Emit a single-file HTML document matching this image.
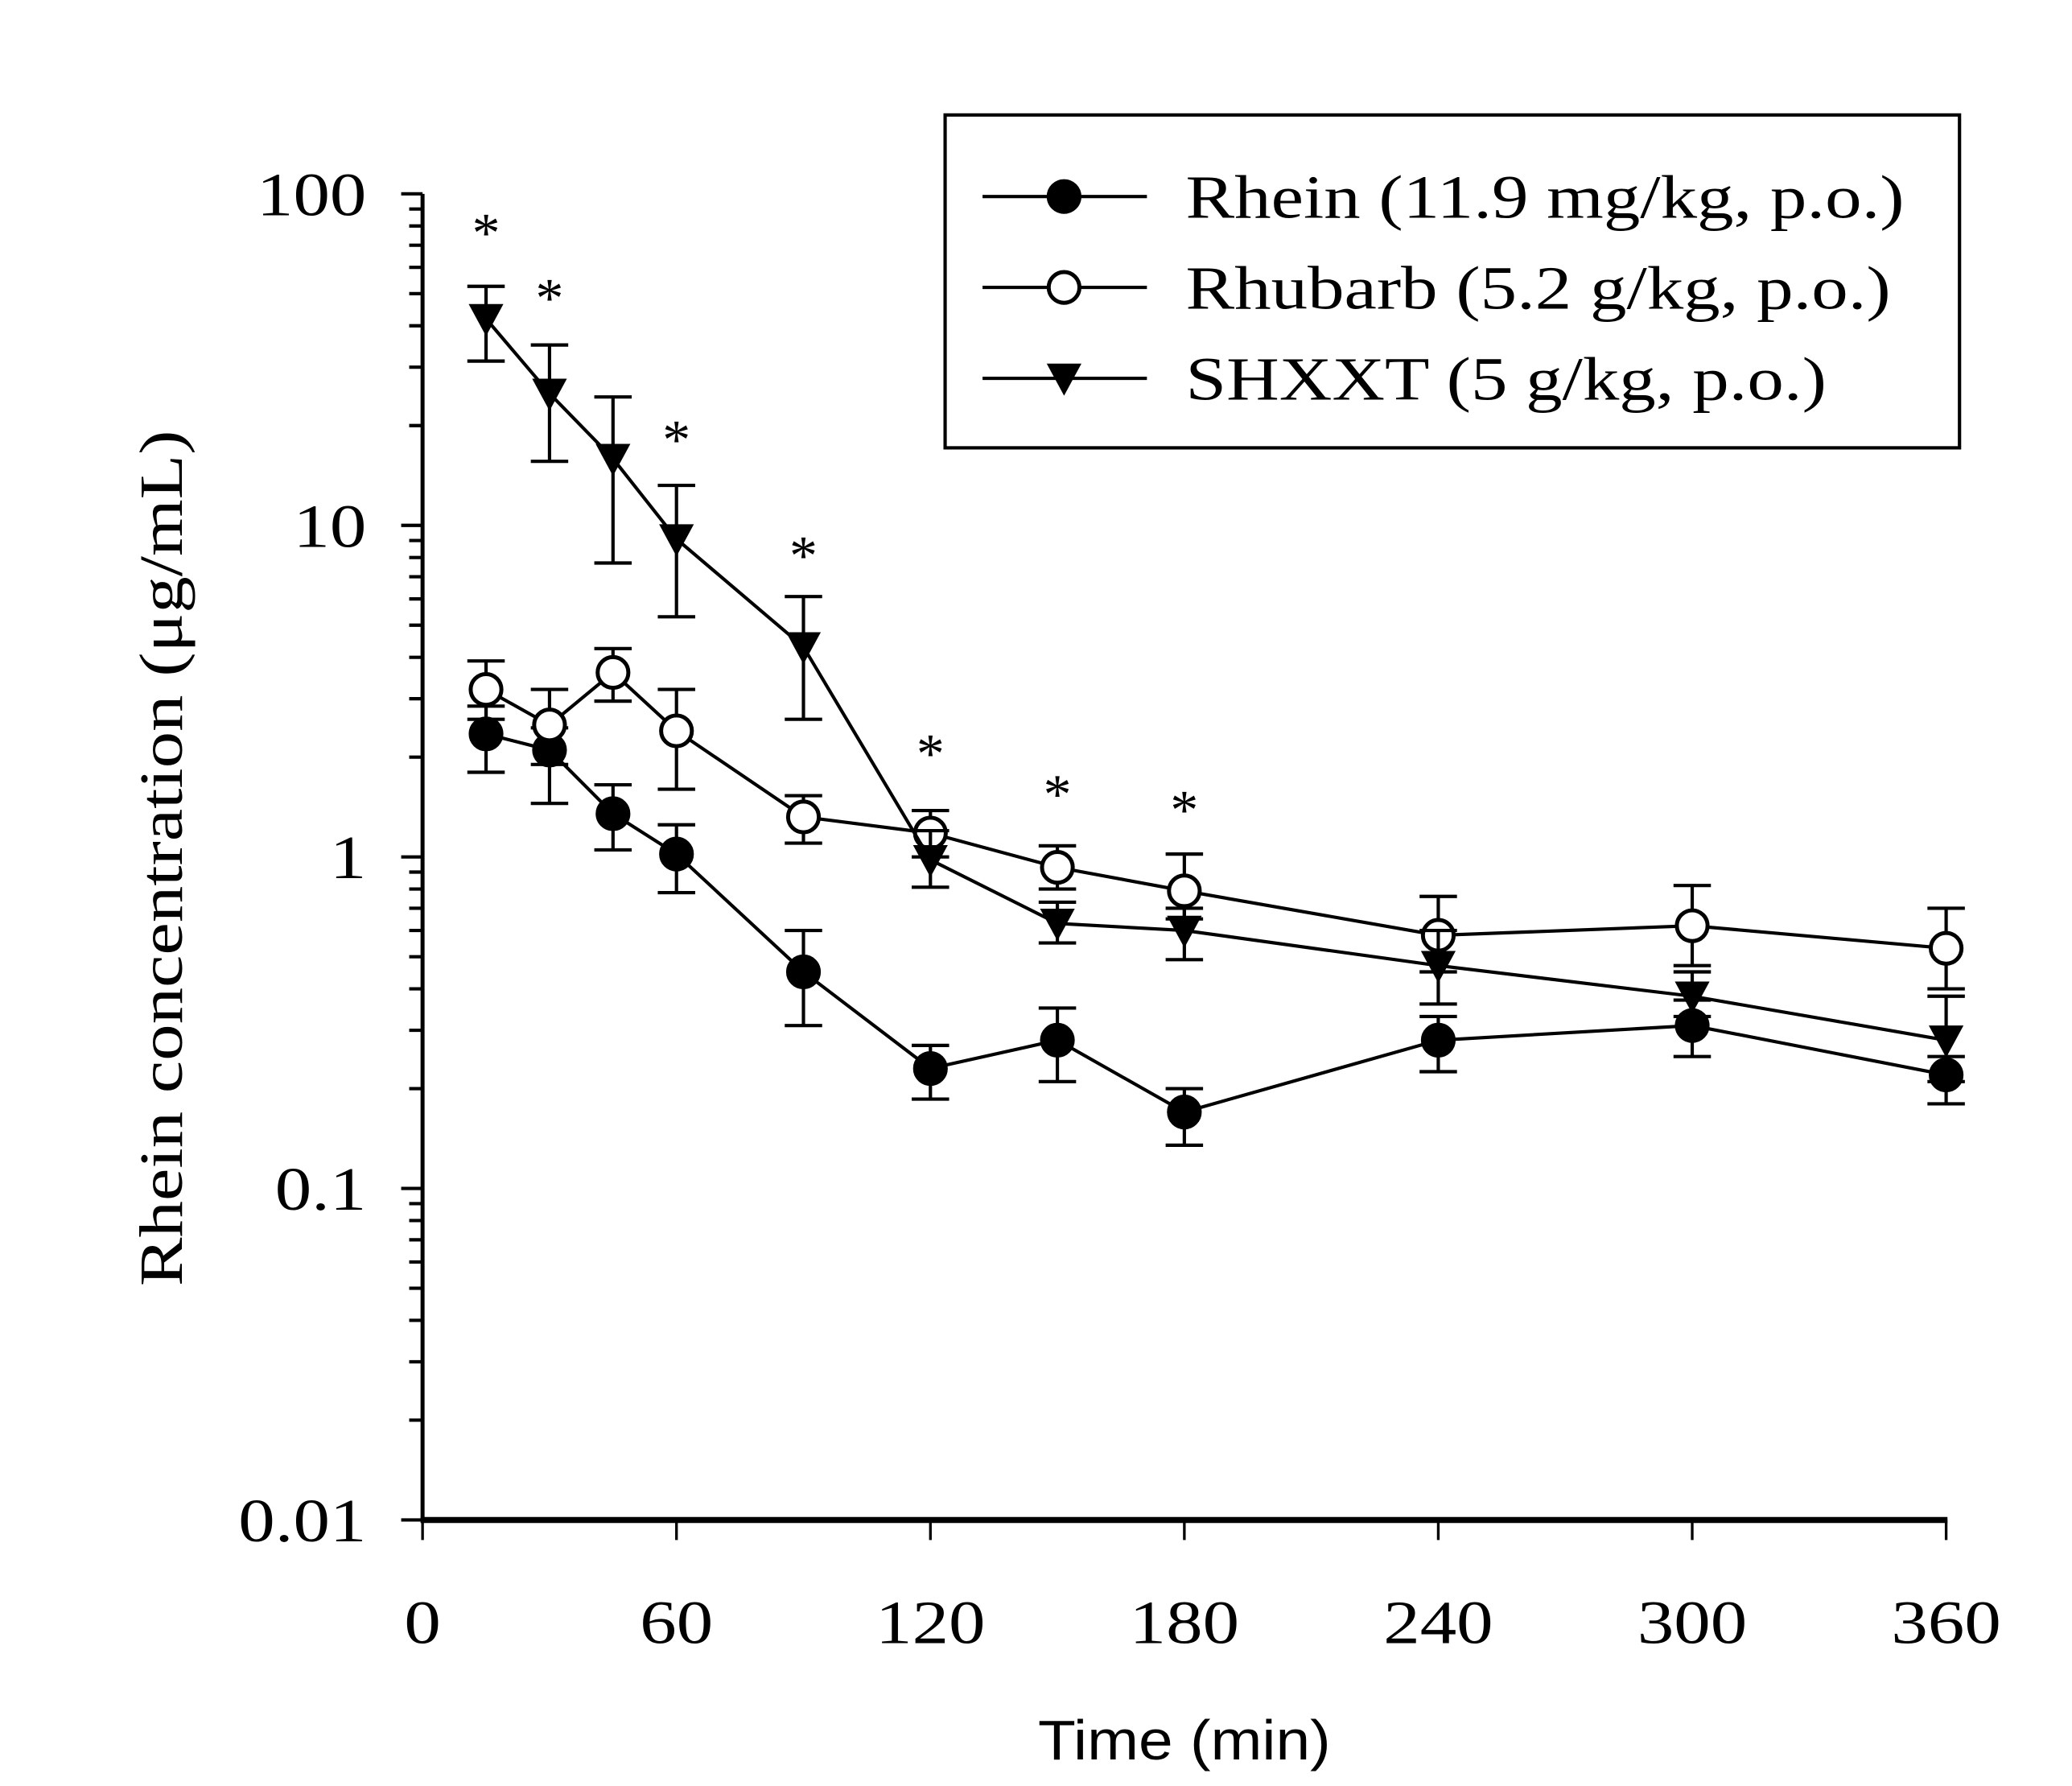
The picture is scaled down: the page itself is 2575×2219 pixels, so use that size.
<!DOCTYPE html>
<html><head><meta charset="utf-8"><style>html,body{margin:0;padding:0;background:#fff}svg{display:block}</style></head>
<body>
<svg id="chart" width="2575" height="2219" viewBox="0 0 1550 1336" xmlns="http://www.w3.org/2000/svg" font-family="'Liberation Serif', serif">
<rect width="1550" height="1336" fill="#fff"/>
<g id="axes"></g>
<g id="series"></g>
<g id="legend">
  <rect x="707" y="86" width="759" height="249" fill="#fff" stroke="#000" stroke-width="2.5"/>
</g>
</svg>
<script>
const times = [15,30,45,60,90,120,150,180,240,300,360];
const rheinMean = [2.35,2.1,1.35,1.02,0.45,0.23,0.28,0.17,0.28,0.31,0.22];
const rheinUp   = [2.85,2.45,1.65,1.25,0.6,0.27,0.35,0.2,0.33,0.37,0.25];
const rheinLo   = [1.8,1.45,1.05,0.78,0.31,0.186,0.21,0.135,0.225,0.25,0.18];
const rhubarbMean = [3.2,2.5,3.6,2.4,1.32,1.18,0.93,0.79,0.58,0.62,0.53];
const rhubarbUp   = [3.9,3.2,4.25,3.2,1.53,1.38,1.08,1.02,0.76,0.82,0.7];
const rhubarbLo   = [2.6,1.9,2.95,1.6,1.1,1.0,0.8,0.65,0.45,0.47,0.4];
const shxxtMean = [42,25,15.9,9.1,4.3,0.98,0.63,0.6,0.47,0.38,0.28];
const shxxtUp   = [52.6,35,24.4,13.2,6.1,1.2,0.73,0.7,0.6,0.45,0.38];
const shxxtLo   = [31.3,15.6,7.7,5.3,2.6,0.81,0.55,0.49,0.36,0.33,0.21];
const starTimes = [15,30,60,90,120,150,180];
const starValues = [80,50.8,19,8.5,2.15,1.62,1.45];
const xTicks = [0,60,120,180,240,300,360];
const yTicks = [0.01,0.1,1,10,100];
const yTickLabels = ["0.01","0.1","1","10","100"];
const legendLabels = ["Rhein (11.9 mg/kg, p.o.)","Rhubarb (5.2 g/kg, p.o.)","SHXXT (5 g/kg, p.o.)"];

const NS="http://www.w3.org/2000/svg";
const X0=316,X1=1456,Y100=145,DEC=248,SX=1.19;
const xs=t=>X0+(X1-X0)*t/360;
const ys=v=>Y100+(2-Math.log10(v))*DEC;
function mk(tag,attrs,parent){const e=document.createElementNS(NS,tag);for(const k in attrs)e.setAttribute(k,attrs[k]);parent.appendChild(e);return e;}
function txt(x,y,s,anchor,size,parent,extra,sx){
  const a={x:0,y:0,'text-anchor':anchor,'font-size':size,transform:`translate(${x},${y}) ${extra||''} scale(${sx||SX},1)`};
  const e=mk('text',a,parent);e.textContent=s;return e;
}
const axes=document.getElementById('axes'),series=document.getElementById('series'),legend=document.getElementById('legend');

let e;
e=mk('line',{x1:X0,y1:Y100,x2:X0,y2:ys(0.01),stroke:'#000','stroke-width':3},axes);


e=mk('line',{x1:X0-1.5,y1:ys(0.01),x2:X1+1,y2:ys(0.01),stroke:'#000','stroke-width':4.5},axes);


for(let d=-2;d<=2;d++){
  for(let m=1;m<=9;m++){
    const v=m*Math.pow(10,d);
    if(d===2&&m>1)break;
    const y=ys(v);
    e=mk('line',{x1:X0-(m===1?16:10),y1:y,x2:X0,y2:y,stroke:'#000','stroke-width':2.5},axes);
    
    
  }
}
yTicks.forEach((v,i)=>{
  e=txt(274,ys(v)+16,yTickLabels[i],'end',46,axes);
  
  
});
xTicks.forEach(t=>{
  e=mk('line',{x1:xs(t),y1:ys(0.01),x2:xs(t),y2:ys(0.01)+15,stroke:'#000','stroke-width':2},axes);
  
  
  e=txt(xs(t),1229,String(t),'middle',46,axes);
  
  
});
e=mk('text',{x:0,y:0,'text-anchor':'middle','font-size':42,'font-family':"'Liberation Sans', sans-serif",transform:'translate(886,1316) scale(1.1,1)'},axes);
e.textContent='Time (min)';


e=txt(136,642,'Rhein concentration (\u03bcg/mL)','middle',46,axes,'rotate(-90)',1.19);



function marker(type,x,y,parent){
  if(type==='tri') return mk('path',{d:`M${x-13},${y-11} L${x+13},${y-11} L${x},${y+13} Z`,fill:'#000'},parent);
  return mk('circle',{cx:x,cy:y,r:11.5,fill:type==='filled'?'#000':'#fff',stroke:'#000','stroke-width':3},parent);
}
function drawSeries(name,type,mean,up,lo){
  const g=mk('g',{},series);
  
  
  times.forEach((t,i)=>{
    const x=xs(t);
    e=mk('path',{d:`M${x},${ys(up[i])}V${ys(lo[i])}M${x-14},${ys(up[i])}H${x+14}M${x-14},${ys(lo[i])}H${x+14}`,stroke:'#000','stroke-width':2.5,fill:'none'},g);
    
    
  });
  e=mk('polyline',{points:times.map((t,i)=>xs(t)+','+ys(mean[i])).join(' '),fill:'none',stroke:'#000','stroke-width':2.5},g);
  
  
  times.forEach((t,i)=>{
    e=marker(type,xs(t),ys(mean[i]),g);
    
    
  });
}
drawSeries('rhein','filled',rheinMean,rheinUp,rheinLo);
drawSeries('rhubarb','open',rhubarbMean,rhubarbUp,rhubarbLo);
drawSeries('shxxt','tri',shxxtMean,shxxtUp,shxxtLo);
starTimes.forEach((t,i)=>{
  e=mk('text',{x:xs(t),y:ys(starValues[i])+19,'text-anchor':'middle','font-size':42},series);
  e.textContent='*';
  
  
});
const legTypes=['filled','open','tri'],legY=[147,215,283];
legendLabels.forEach((lab,i)=>{
  const g=mk('g',{},legend);
  
  
  mk('line',{x1:735,y1:legY[i],x2:858,y2:legY[i],stroke:'#000','stroke-width':2.5},g);
  marker(legTypes[i],796,legY[i],g);
  e=txt(887,legY[i]+16,lab,'start',46,g);
  
  
});
</script>
</body></html>
